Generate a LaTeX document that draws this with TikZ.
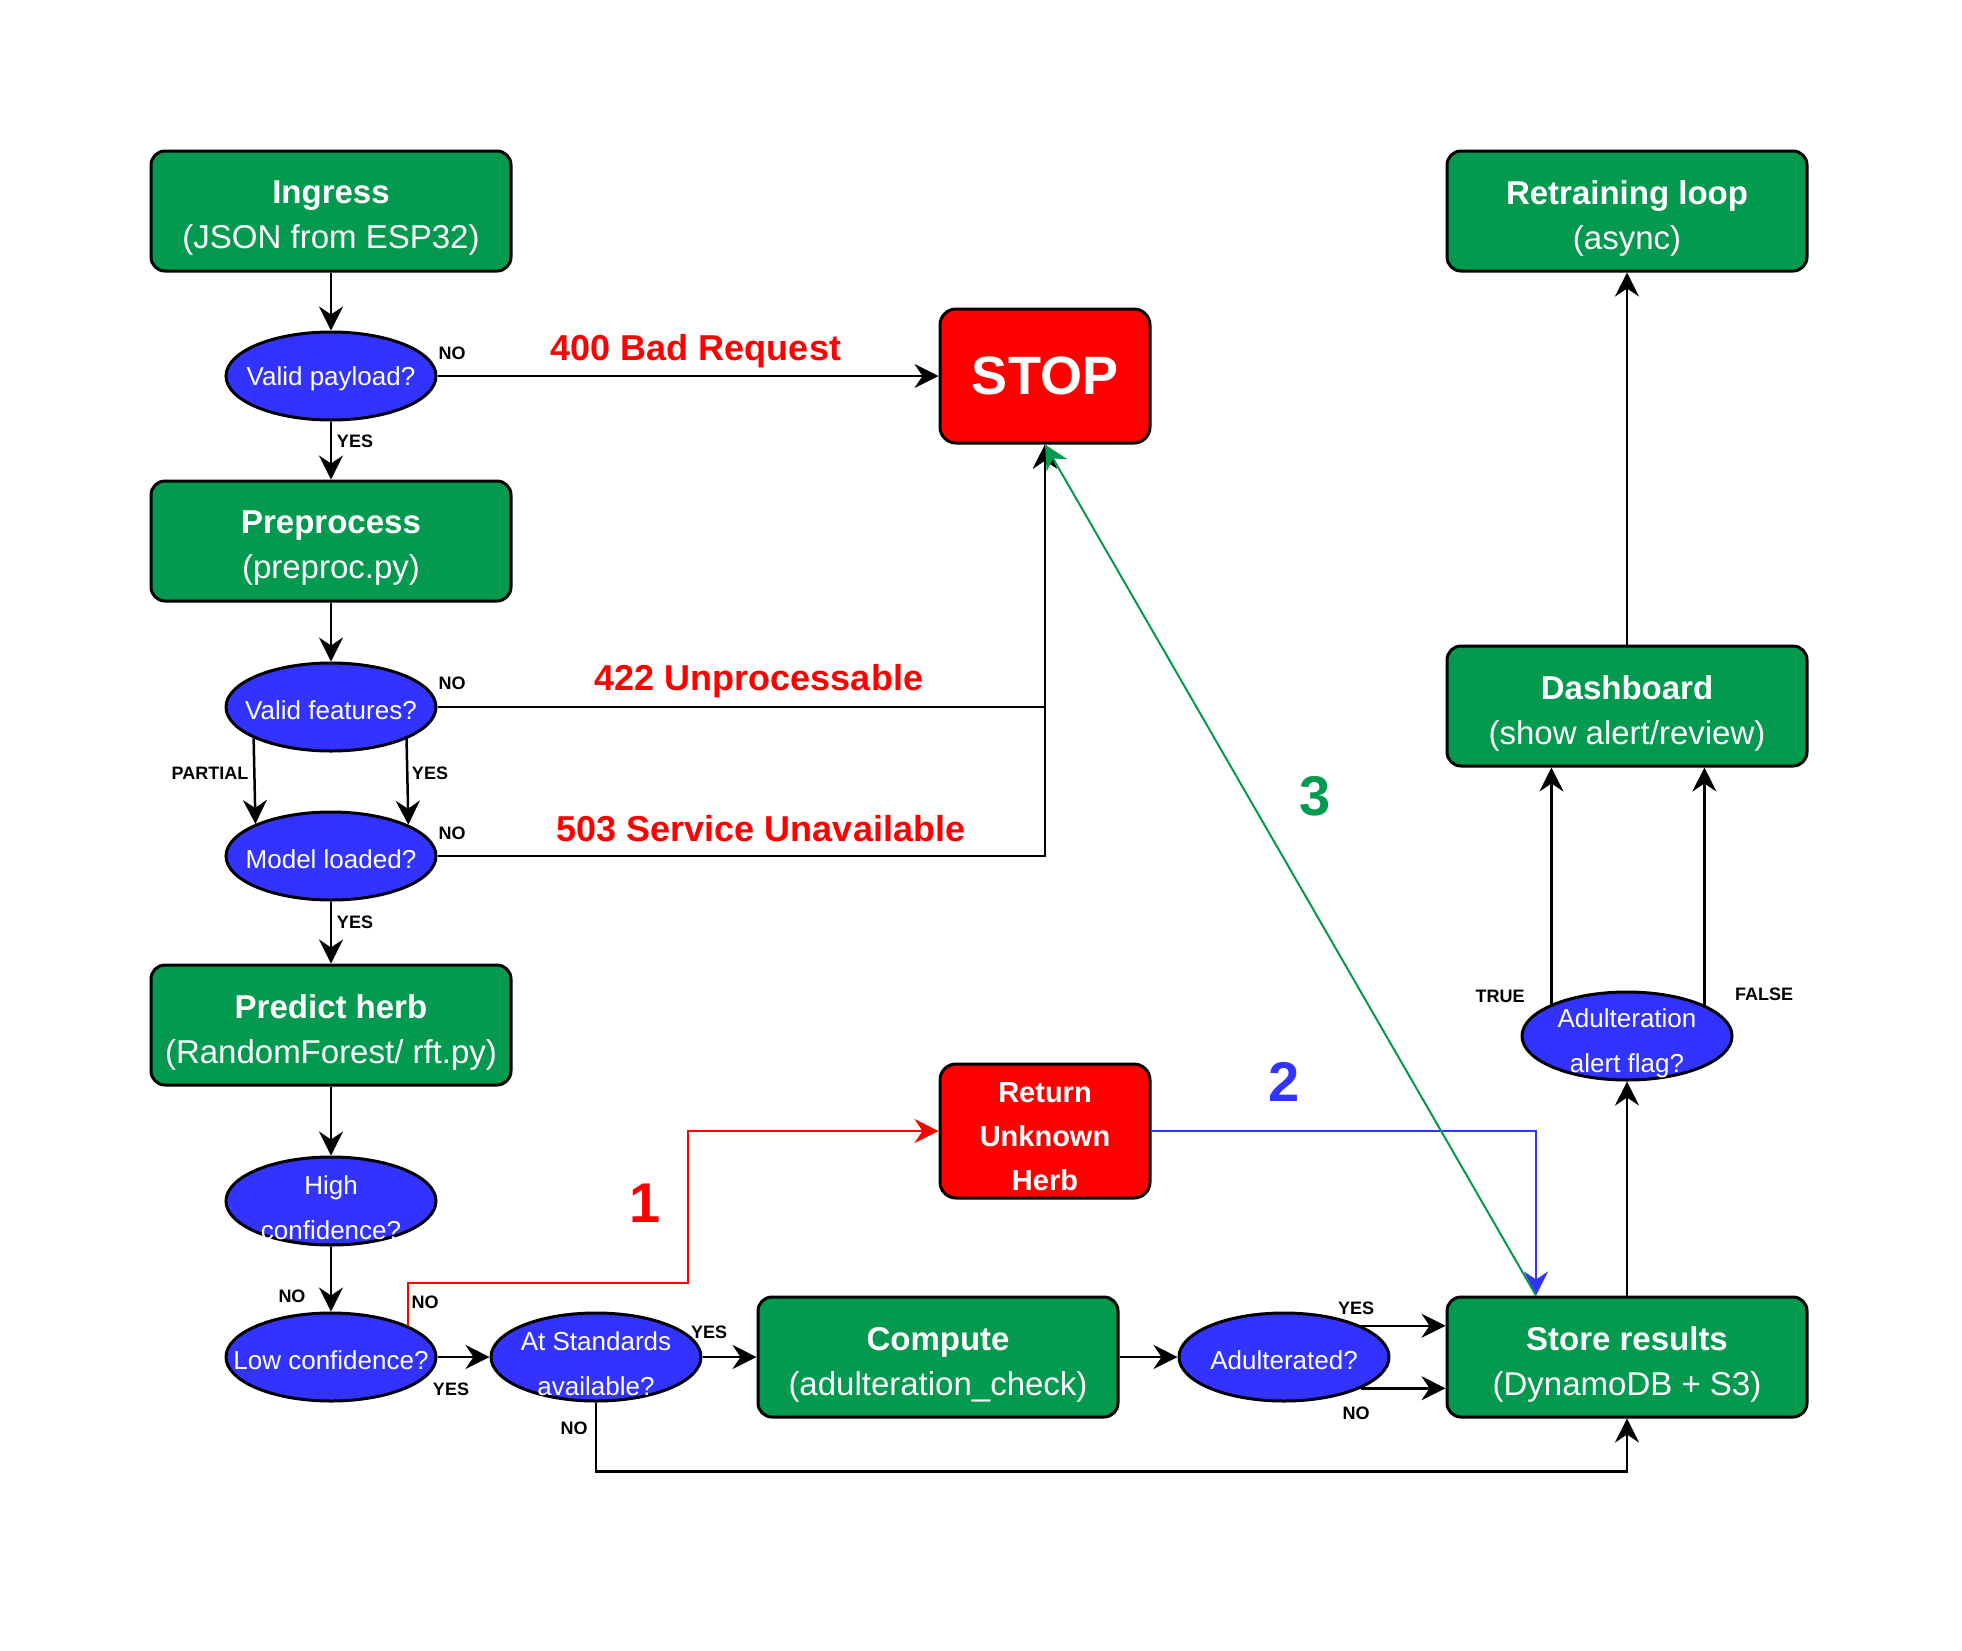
\documentclass[tikz,border=0pt]{standalone}
\usepackage{fontspec}
\setmainfont{Liberation Sans}
\usepackage{xcolor}
\usepackage{tikz}
\usetikzlibrary{shapes.geometric,arrows.meta}
\definecolor{boxgreen}{HTML}{03994E}
\definecolor{decblue}{HTML}{3333FF}
\definecolor{stopred}{HTML}{FF0000}

\begin{document}
\begin{tikzpicture}[x=1pt,y=-1pt,
	procbox/.style={rectangle,rounded corners=14pt,draw=black,line width=3pt,fill=boxgreen,
		minimum width=360pt,minimum height=120pt},
	boxtext/.style={text=white,align=center,yshift=-7.5pt,font=\fontsize{33}{45}\selectfont},
	stopbox/.style={rectangle,rounded corners=16pt,draw=black,line width=3pt,fill=stopred,text=white,
		minimum width=210pt,minimum height=134pt,align=center},
	stoptext/.style={text=white,align=center,yshift=-6pt,font=\bfseries\fontsize{29}{44}\selectfont},
	decision/.style={ellipse,draw=black,line width=3pt,fill=decblue,minimum width=210pt,minimum height=88pt,inner sep=0pt},
	dectext/.style={text=white,align=center,yshift=-3pt,font=\fontsize{26}{45}\selectfont},
	dectwo/.style={dectext,yshift=-4pt},
	arr/.style={line width=2.5pt,-{Stealth[length=24pt,width=24pt,inset=8pt]}},
	tag/.style={font=\bfseries\fontsize{18}{20}\selectfont},
	code/.style={text=stopred,font=\bfseries\fontsize{36}{40}\selectfont},
	num/.style={font=\bfseries\fontsize{56}{60}\selectfont}]
		\useasboundingbox (0,0) rectangle (1962,1650);
		% 左列节点
		\node[procbox,label={[boxtext]center:\textbf{Ingress}\\(JSON from ESP32)}] (ingress) at (331,211) {};
		\node[decision,label={[dectext]center:Valid payload?}] (payload) at (331,376) {};
		\node[procbox,label={[boxtext]center:\textbf{Preprocess}\\(preproc.py)}] (preproc) at (331,541) {};
		\node[decision,label={[dectext]center:Valid features?}] (features) at (331,707) {};
		\node[decision,label={[dectext]center:Model loaded?}] (loaded) at (331,856) {};
		\node[procbox,label={[boxtext]center:\textbf{Predict herb}\\(RandomForest/ rft.py)}] (predict) at (331,1025) {};
		\node[decision,label={[dectwo]center:High\\confidence?}] (highconf) at (331,1201) {};
		\node[decision,label={[dectext]center:Low confidence?}] (lowconf) at (331,1357) {};
		% 底行节点
		\node[decision,label={[dectwo]center:At Standards\\available?}] (standards) at (596,1357) {};
		\node[procbox,label={[boxtext]center:\textbf{Compute}\\(adulteration\_check)}] (compute) at (938,1357) {};
		\node[decision,label={[dectext]center:Adulterated?}] (adult) at (1284,1357) {};
		\node[procbox,label={[boxtext]center:\textbf{Store results}\\(DynamoDB + S3)}] (store) at (1627,1357) {};
		% 右列节点
		\node[decision,label={[dectwo]center:Adulteration\\alert flag?}] (flag) at (1627,1036) {};
		\node[procbox,label={[boxtext]center:\textbf{Dashboard}\\(show alert/review)}] (dash) at (1627,706) {};
		\node[procbox,label={[boxtext]center:\textbf{Retraining loop}\\(async)}] (retrain) at (1627,211) {};
		% 终止节点
		\node[stopbox,font=\bfseries\fontsize{54}{60}\selectfont] (stop) at (1045,376) {STOP};
		\node[stopbox,label={[stoptext]center:Return\\Unknown\\Herb}] (unknown) at (1045,1131) {};
		% 主流程箭头
		\draw[arr] (ingress) -- (payload);
		\draw[arr] (payload) -- (stop);
		\draw[arr] (payload) -- (preproc);
		\draw[arr] (preproc) -- (features);
		\draw[arr] (features.east) -| (stop.south);
		\draw[arr] (loaded.east) -| (stop.south);
		\draw[arr] (features.202.5) -- (loaded.157.5);
		\draw[arr] (features.337.5) -- (loaded.22.5);
		\draw[arr] (loaded) -- (predict);
		\draw[arr] (predict) -- (highconf);
		\draw[arr] (highconf) -- (lowconf);
		\draw[arr] (lowconf) -- (standards);
		\draw[arr] (standards) -- (compute);
		\draw[arr] (compute) -- (adult);
		\draw[arr] (adult.22.5) -- (adult.22.5 -| store.west);
		\draw[arr] (adult.-22.5) -- (adult.-22.5 -| store.west);
		\draw[arr] (standards.south) -- ++(0,69) -| (store.south);
		\draw[arr] (store) -- (flag);
		\draw[arr] (flag.157.5) -- (flag.157.5 |- dash.south);
		\draw[arr] (flag.22.5) -- (flag.22.5 |- dash.south);
		\draw[arr] (dash) -- (retrain);
		% 彩色路径 1 2 3
		\coordinate (redturn) at (688,1283);
		\coordinate (bluein) at ([xshift=-91pt]store.north);
		\draw[arr,line width=2pt,stopred] (lowconf.22.5) |- (redturn) |- (unknown.west);
		\draw[arr,line width=2pt,decblue] (unknown.east) -| (bluein);
		\draw[arr,line width=2pt,boxgreen] (bluein) -- (stop.south);
		% 分支标签
		\foreach \lbl/\px/\py [count=\i] in {NO/452/353,YES/355/441,NO/452/683,PARTIAL/210/773,
			YES/430/773,NO/452/833,YES/355/922,NO/292/1296,NO/425/1302,YES/451/1389,YES/709/1332,
			NO/574/1428,YES/1356/1308,NO/1356/1413,TRUE/1500/996,FALSE/1764/994}
			\node[tag] (tag\i) at (\px,\py) {\lbl};
		% 错误码
		\node[code] (err400) at (696,351) {400 Bad Request};
		\node[code] (err422) at (759,681) {422 Unprocessable};
		\node[code] (err503) at (761,829) {503 Service Unavailable};
		\node[num,stopred] (one) at (645,1203) {1};
		\node[num,decblue] (two) at (1284,1082) {2};
		\node[num,boxgreen] (three) at (1315,796) {3};
	\end{tikzpicture}
\end{document}
